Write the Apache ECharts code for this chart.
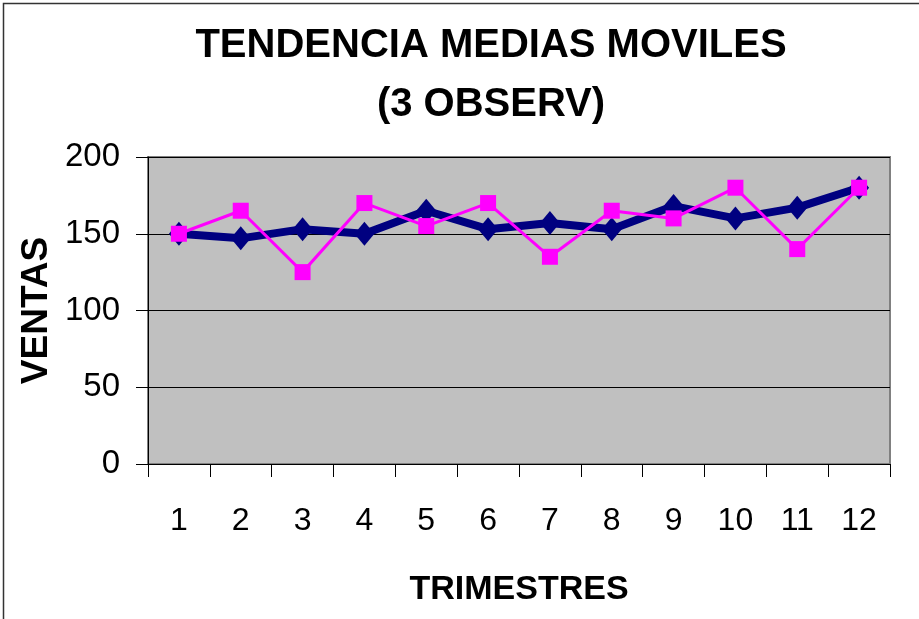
<!DOCTYPE html>
<html><head><meta charset="utf-8">
<script src="https://cdn.jsdelivr.net/npm/echarts@6/dist/echarts.min.js"></script>
<style>html,body{margin:0;padding:0;background:#fff}#c{width:919px;height:619px}</style>
</head><body><div id="c"></div>
<script>
const categories = ['1','2','3','4','5','6','7','8','9','10','11','12'];
const mediasMoviles = [150,147,153,150,165,153,157,153,168,160,167,180];
const ventas = [150,165,125,170,155,170,135,165,160,180,140,180];
const yTicks = [0,50,100,150,200];

const chart = echarts.init(document.getElementById('c'));
const F = '"Liberation Sans", Arial, sans-serif';
chart.setOption({
  animation:false,
  backgroundColor:'#fff',
  title:{
    text:'TENDENCIA MEDIAS MOVILES\n(3 OBSERV)',
    left:486, textAlign:'center', top:11,
    textStyle:{fontFamily:F,fontWeight:'bold',fontSize:40,lineHeight:59,color:'#000'}
  },
  graphic:[{type:'rect',shape:{x:3.5,y:3.5,width:1000,height:1000},style:{fill:null,stroke:'#333',lineWidth:1.5},silent:true}],
  grid:{left:148,top:157,right:29,bottom:155,containLabel:false,outerBoundsMode:'none',
        show:true,backgroundColor:'#c0c0c0',borderColor:'#808080',borderWidth:2},
  xAxis:{
    type:'category',data:categories,boundaryGap:true,
    name:'TRIMESTRES',nameLocation:'middle',nameGap:109,nameMoveOverlap:false,
    nameTextStyle:{fontFamily:F,fontWeight:'bold',fontSize:34,color:'#000'},
    axisLine:{lineStyle:{color:'#000',width:1}},
    axisTick:{show:true,length:13,lineStyle:{color:'#000'}},
    axisLabel:{fontFamily:F,fontSize:32,color:'#000',margin:41}
  },
  yAxis:{
    type:'value',min:0,max:200,interval:50,
    name:'VENTAS',nameLocation:'middle',nameGap:93,nameRotate:90,nameMoveOverlap:false,
    nameTextStyle:{fontFamily:F,fontWeight:'bold',fontSize:37,color:'#000'},
    axisLine:{show:true,lineStyle:{color:'#000',width:1}},
    axisTick:{show:true,length:12,lineStyle:{color:'#000'}},
    axisLabel:{fontFamily:F,fontSize:33,color:'#000',margin:28,
      formatter:v=>yTicks.includes(v)?String(v):''},
    splitLine:{show:true,lineStyle:{color:'#000',width:1}}
  },
  series:[
    {type:'line',data:mediasMoviles,symbol:'diamond',symbolSize:[20,24],
     lineStyle:{color:'#000080',width:8},itemStyle:{color:'#000080'},z:2},
    {type:'line',data:ventas,symbol:'rect',symbolSize:16,
     lineStyle:{color:'#ff00ff',width:3},itemStyle:{color:'#ff00ff'},z:3}
  ]
});
</script></body></html>
